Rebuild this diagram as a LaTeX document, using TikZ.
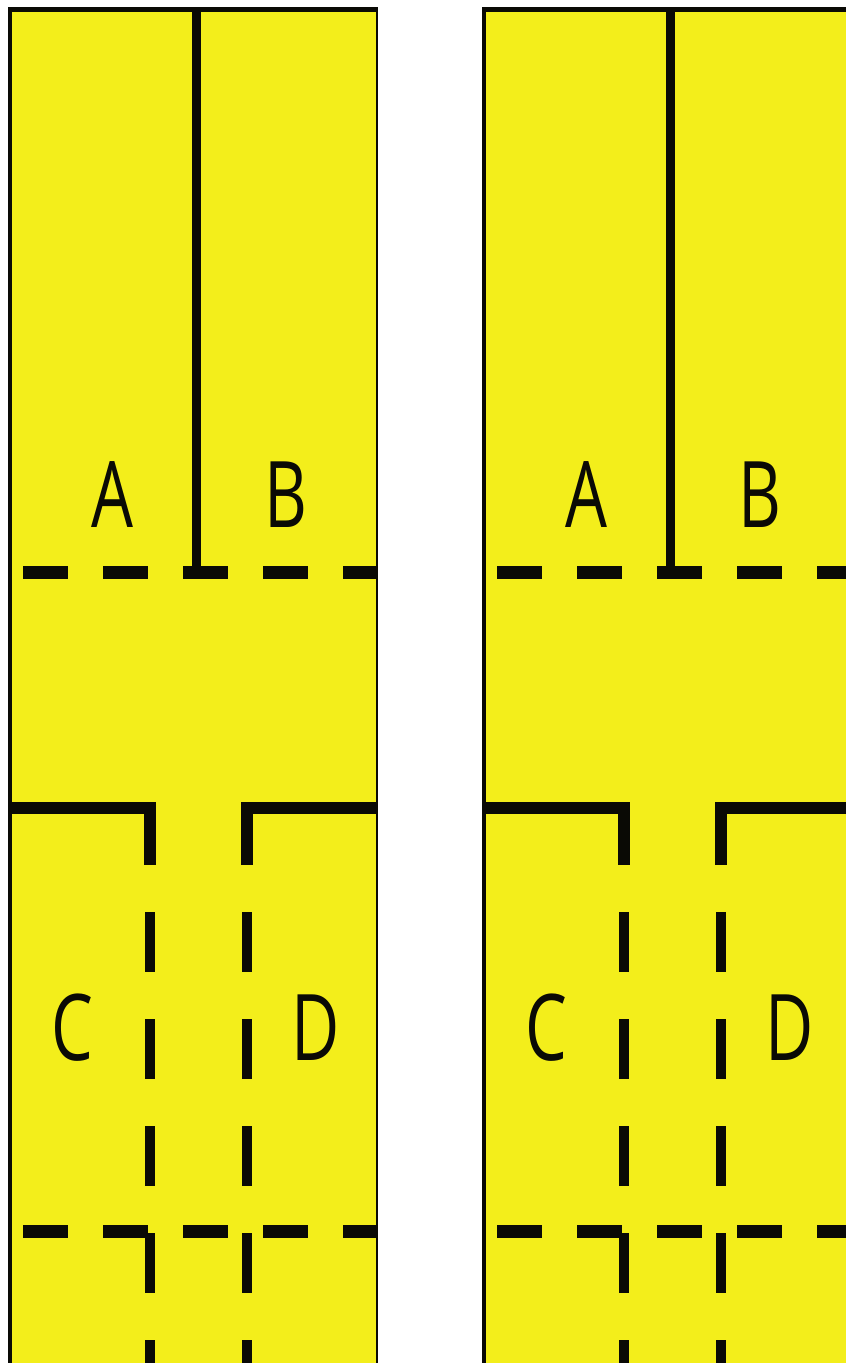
\documentclass[tikz,border=0pt]{standalone}
\usepackage{fontspec}
\setmainfont{Open Sans}
\definecolor{panel}{RGB}{243,238,27}
\definecolor{ink}{RGB}{10,10,5}
\begin{document}
\begin{tikzpicture}[x=1pt,y=-1pt,
  wall/.style={draw=ink,line width=12pt,line join=miter,line cap=butt},
  divider/.style={draw=ink,line width=9pt,line cap=butt},
  hdash/.style={draw=ink,line width=13pt,dash pattern=on 45pt off 35pt},
  vdash/.style={draw=ink,line width=10pt,dash pattern=on 60pt off 47pt},
  lab/.style={inner sep=0pt,text=ink,xscale=0.72,font=\fontsize{92}{92}\selectfont}]
\useasboundingbox (0,0) rectangle (846,1363);
\fill[white] (0,0) rectangle (846,1363);
\foreach \dx/\p in {0/l,474/r}{
  \begin{scope}[xshift=\dx]
    \fill[panel] (9,8) rectangle (377,1363);
    \draw[ink,line width=4.5pt] (10,1363) -- (10,9);
    \draw[ink,line width=5pt] (8,9.5) -- (378,9.5);
    \draw[ink,line width=2.5pt] (377,8) -- (377,1363);
    \draw[divider] (196,8) -- (196,572);
    \draw[hdash] (23,572) -- (377,572);
    \draw[wall] (9,808) -- (150,808) -- (150,865);
    \draw[wall] (377,808) -- (247,808) -- (247,865);
    \draw[vdash] (150,912) -- (150,1363);
    \draw[vdash] (247,912) -- (247,1363);
    \draw[hdash] (23,1231) -- (377,1231);
    \node[lab] (A\p) at (112,495) {A};
    \node[lab] (B\p) at (286,495) {B};
    \node[lab] (C\p) at (72,1028) {C};
    \node[lab] (D\p) at (316,1028) {D};
  \end{scope}
}
\end{tikzpicture}
\end{document}
